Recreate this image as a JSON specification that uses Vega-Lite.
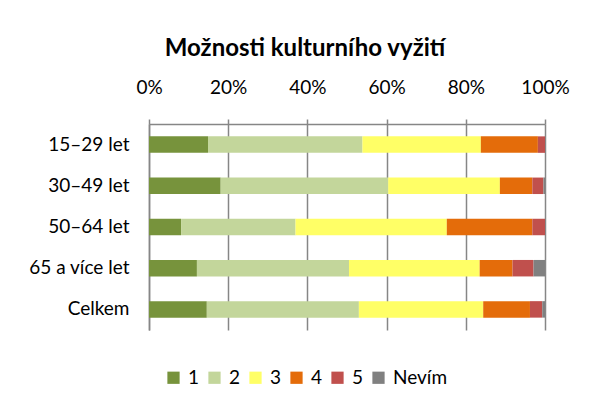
{
  "$schema": "https://vega.github.io/schema/vega-lite/v6.json",
  "autosize": "none",
  "width": 396,
  "height": 206,
  "padding": {"left": 149, "top": 124, "right": 47, "bottom": 80},
  "background": "white",
  "title": {
    "text": "Možnosti kulturního vyžití",
    "font": "Lato",
    "fontSize": 24,
    "fontWeight": "bold",
    "color": "#000000",
    "anchor": "middle",
    "dx": -42,
    "offset": 17
  },
  "data": {
    "values": [
      {"skupina": "15–29 let", "hodnoceni": "1", "podil": 14.9},
      {"skupina": "15–29 let", "hodnoceni": "2", "podil": 39.0},
      {"skupina": "15–29 let", "hodnoceni": "3", "podil": 29.9},
      {"skupina": "15–29 let", "hodnoceni": "4", "podil": 14.4},
      {"skupina": "15–29 let", "hodnoceni": "5", "podil": 1.8},
      {"skupina": "15–29 let", "hodnoceni": "Nevím", "podil": 0.0},
      {"skupina": "30–49 let", "hodnoceni": "1", "podil": 18.1},
      {"skupina": "30–49 let", "hodnoceni": "2", "podil": 42.3},
      {"skupina": "30–49 let", "hodnoceni": "3", "podil": 28.2},
      {"skupina": "30–49 let", "hodnoceni": "4", "podil": 8.2},
      {"skupina": "30–49 let", "hodnoceni": "5", "podil": 2.8},
      {"skupina": "30–49 let", "hodnoceni": "Nevím", "podil": 0.4},
      {"skupina": "50–64 let", "hodnoceni": "1", "podil": 8.1},
      {"skupina": "50–64 let", "hodnoceni": "2", "podil": 28.9},
      {"skupina": "50–64 let", "hodnoceni": "3", "podil": 38.2},
      {"skupina": "50–64 let", "hodnoceni": "4", "podil": 21.6},
      {"skupina": "50–64 let", "hodnoceni": "5", "podil": 3.2},
      {"skupina": "50–64 let", "hodnoceni": "Nevím", "podil": 0.0},
      {"skupina": "65 a více let", "hodnoceni": "1", "podil": 12.1},
      {"skupina": "65 a více let", "hodnoceni": "2", "podil": 38.4},
      {"skupina": "65 a více let", "hodnoceni": "3", "podil": 33.0},
      {"skupina": "65 a více let", "hodnoceni": "4", "podil": 8.3},
      {"skupina": "65 a více let", "hodnoceni": "5", "podil": 5.3},
      {"skupina": "65 a více let", "hodnoceni": "Nevím", "podil": 2.9},
      {"skupina": "Celkem", "hodnoceni": "1", "podil": 14.6},
      {"skupina": "Celkem", "hodnoceni": "2", "podil": 38.4},
      {"skupina": "Celkem", "hodnoceni": "3", "podil": 31.4},
      {"skupina": "Celkem", "hodnoceni": "4", "podil": 11.8},
      {"skupina": "Celkem", "hodnoceni": "5", "podil": 3.1},
      {"skupina": "Celkem", "hodnoceni": "Nevím", "podil": 0.7}
    ]
  },
  "mark": {"type": "bar"},
  "encoding": {
    "y": {
      "field": "skupina",
      "type": "nominal",
      "sort": ["15–29 let", "30–49 let", "50–64 let", "65 a více let", "Celkem"],
      "scale": {"paddingInner": 0.6, "paddingOuter": 0.3},
      "axis": {
        "title": null,
        "ticks": false,
        "domainColor": "#868686",
        "domainWidth": 1.5,
        "labelFont": "Lato",
        "labelFontSize": 19,
        "labelColor": "#000000",
        "labelPadding": 20
      }
    },
    "x": {
      "field": "podil",
      "type": "quantitative",
      "stack": "normalize",
      "scale": {"domain": [0, 1]},
      "axis": {
        "orient": "top",
        "title": null,
        "format": ".0%",
        "values": [0, 0.2, 0.4, 0.6, 0.8, 1],
        "labelFlush": false,
        "labelOverlap": false,
        "grid": true,
        "gridColor": "#868686",
        "gridWidth": 1.5,
        "domainColor": "#868686",
        "domainWidth": 1.5,
        "tickColor": "#868686",
        "tickWidth": 1.5,
        "tickSize": 5,
        "labelFont": "Lato",
        "labelFontSize": 19,
        "labelColor": "#000000",
        "labelPadding": 22
      }
    },
    "color": {
      "field": "hodnoceni",
      "type": "nominal",
      "scale": {
        "domain": ["1", "2", "3", "4", "5", "Nevím"],
        "range": ["#77933C", "#C3D69B", "#FFFF66", "#E46C0A", "#C0504D", "#808080"]
      },
      "legend": {
        "title": null,
        "orient": "none",
        "direction": "horizontal",
        "legendX": 15,
        "legendY": 244,
        "symbolType": "square",
        "symbolSize": 150,
        "symbolStrokeWidth": 0,
        "labelFont": "Lato",
        "labelFontSize": 19,
        "labelColor": "#000000",
        "labelOffset": 5,
        "columnPadding": 5
      }
    },
    "order": {"field": "hodnoceni", "sort": "ascending"}
  },
  "config": {
    "view": {"stroke": null}
  }
}
